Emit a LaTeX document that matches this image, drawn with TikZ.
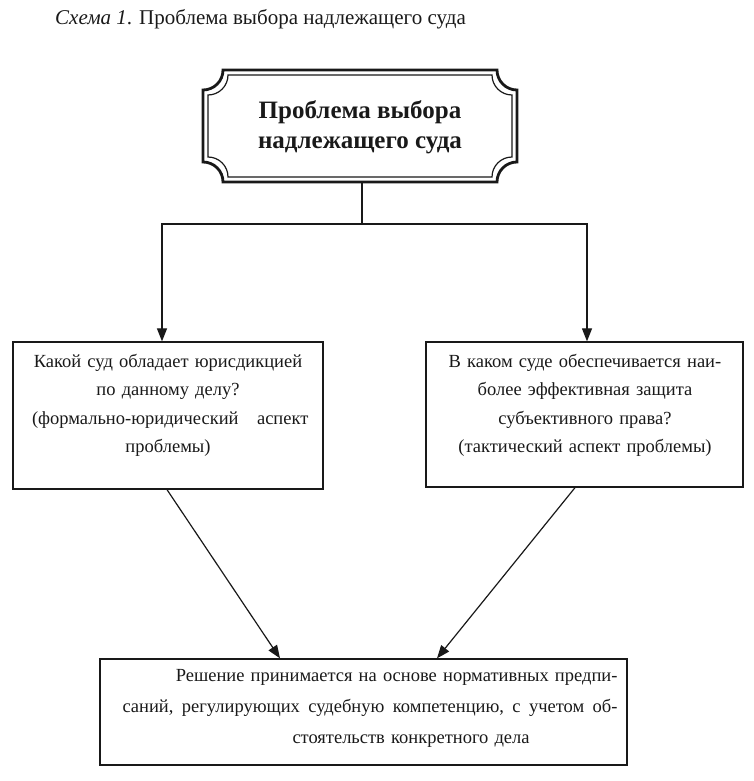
\documentclass[tikz,border=0pt]{standalone}
\usepackage{fontspec}
\setmainfont{Liberation Serif}
\usetikzlibrary{arrows.meta}
\definecolor{ink}{gray}{0.1}
\begin{document}
\begin{tikzpicture}[x=1pt,y=1pt,
  box/.style={draw=ink, line width=1.3pt, inner sep=0pt},
  txt/.style={font=\fontsize{18.5}{28.5}\selectfont, text=ink, align=center, inner sep=0pt},
  conn/.style={draw=ink, line width=1.2pt},
  arr/.style={conn, -{Triangle[length=13pt,width=10pt]}},
  plaqueouter/.style={draw=ink, line width=2.8pt},
  plaqueinner/.style={draw=ink, line width=1.2pt}]
\useasboundingbox (0,0) rectangle (753,-781);
% caption
\node[anchor=base west, inner sep=0pt, text=ink, font=\fontsize{21}{25}\selectfont] (caption) at (55,-25) {\textit{Схема 1}. Проблема выбора надлежащего суда};
% title plaque
\node[inner sep=0pt, minimum width=314pt, minimum height=112pt] (title) at (360,-126) {};
\draw[plaqueouter] (223,-70) -- (497,-70) arc[start angle=180,end angle=270,radius=20]
  -- (517,-162) arc[start angle=90,end angle=180,radius=20]
  -- (223,-182) arc[start angle=0,end angle=90,radius=20]
  -- (203,-90) arc[start angle=270,end angle=360,radius=20] -- cycle;
\draw[plaqueinner] (228,-75) -- (492,-75) arc[start angle=180,end angle=270,radius=20]
  -- (512,-157) arc[start angle=90,end angle=180,radius=20]
  -- (228,-177) arc[start angle=0,end angle=90,radius=20]
  -- (208,-95) arc[start angle=270,end angle=360,radius=20] -- cycle;
\node[inner sep=0pt, align=center, text=ink, font=\fontsize{25}{30}\selectfont\bfseries] (titletext) at (360,-127) {Проблема выбора\\надлежащего суда};
% boxes
\node[box, minimum width=310pt, minimum height=147pt] (left) at (168,-415.5) {};
\node[box, minimum width=317pt, minimum height=145pt] (right) at (584.5,-414.5) {};
\node[box, minimum width=527pt, minimum height=106pt] (bottom) at (363.5,-712) {};
\node[txt, text width=272pt] (lefttext) at (168,-405.5) {Какой суд обладает юрисдикцией\\ по данному делу?\\ \makebox[272pt][s]{(формально-юридический\ \ \ аспект}\\ проблемы)};
\node[txt, text width=290pt] (righttext) at (585,-405.5) {В каком суде обеспечивается наи-\\ более эффективная защита\\ субъективного права?\\ (тактический аспект проблемы)};
\node[txt, align=left, text width=495pt, font=\fontsize{18.5}{31}\selectfont] (bottomtext) at (370,-708) {\makebox[495pt][r]{Решение принимается на основе нормативных предпи-}\\ \makebox[495pt]{саний,\hfill регулирующих\hfill судебную\hfill компетенцию,\hfill с\hfill учетом\hfill об-}\\ \hspace*{170pt}стоятельств конкретного дела};
% connectors
\coordinate (j) at (362,-224);
\draw[conn] ([xshift=2pt]title.south) -- (j);
\draw[arr] (j) -| ([xshift=-6pt]left.north);
\draw[arr] (j) -| ([xshift=2.5pt]right.north);
\draw[arr] ([xshift=-1pt]left.south) -- ([xshift=-83.5pt]bottom.north);
\draw[arr] ([xshift=-9.5pt]right.south) -- ([xshift=73.5pt]bottom.north);
\end{tikzpicture}
\end{document}
